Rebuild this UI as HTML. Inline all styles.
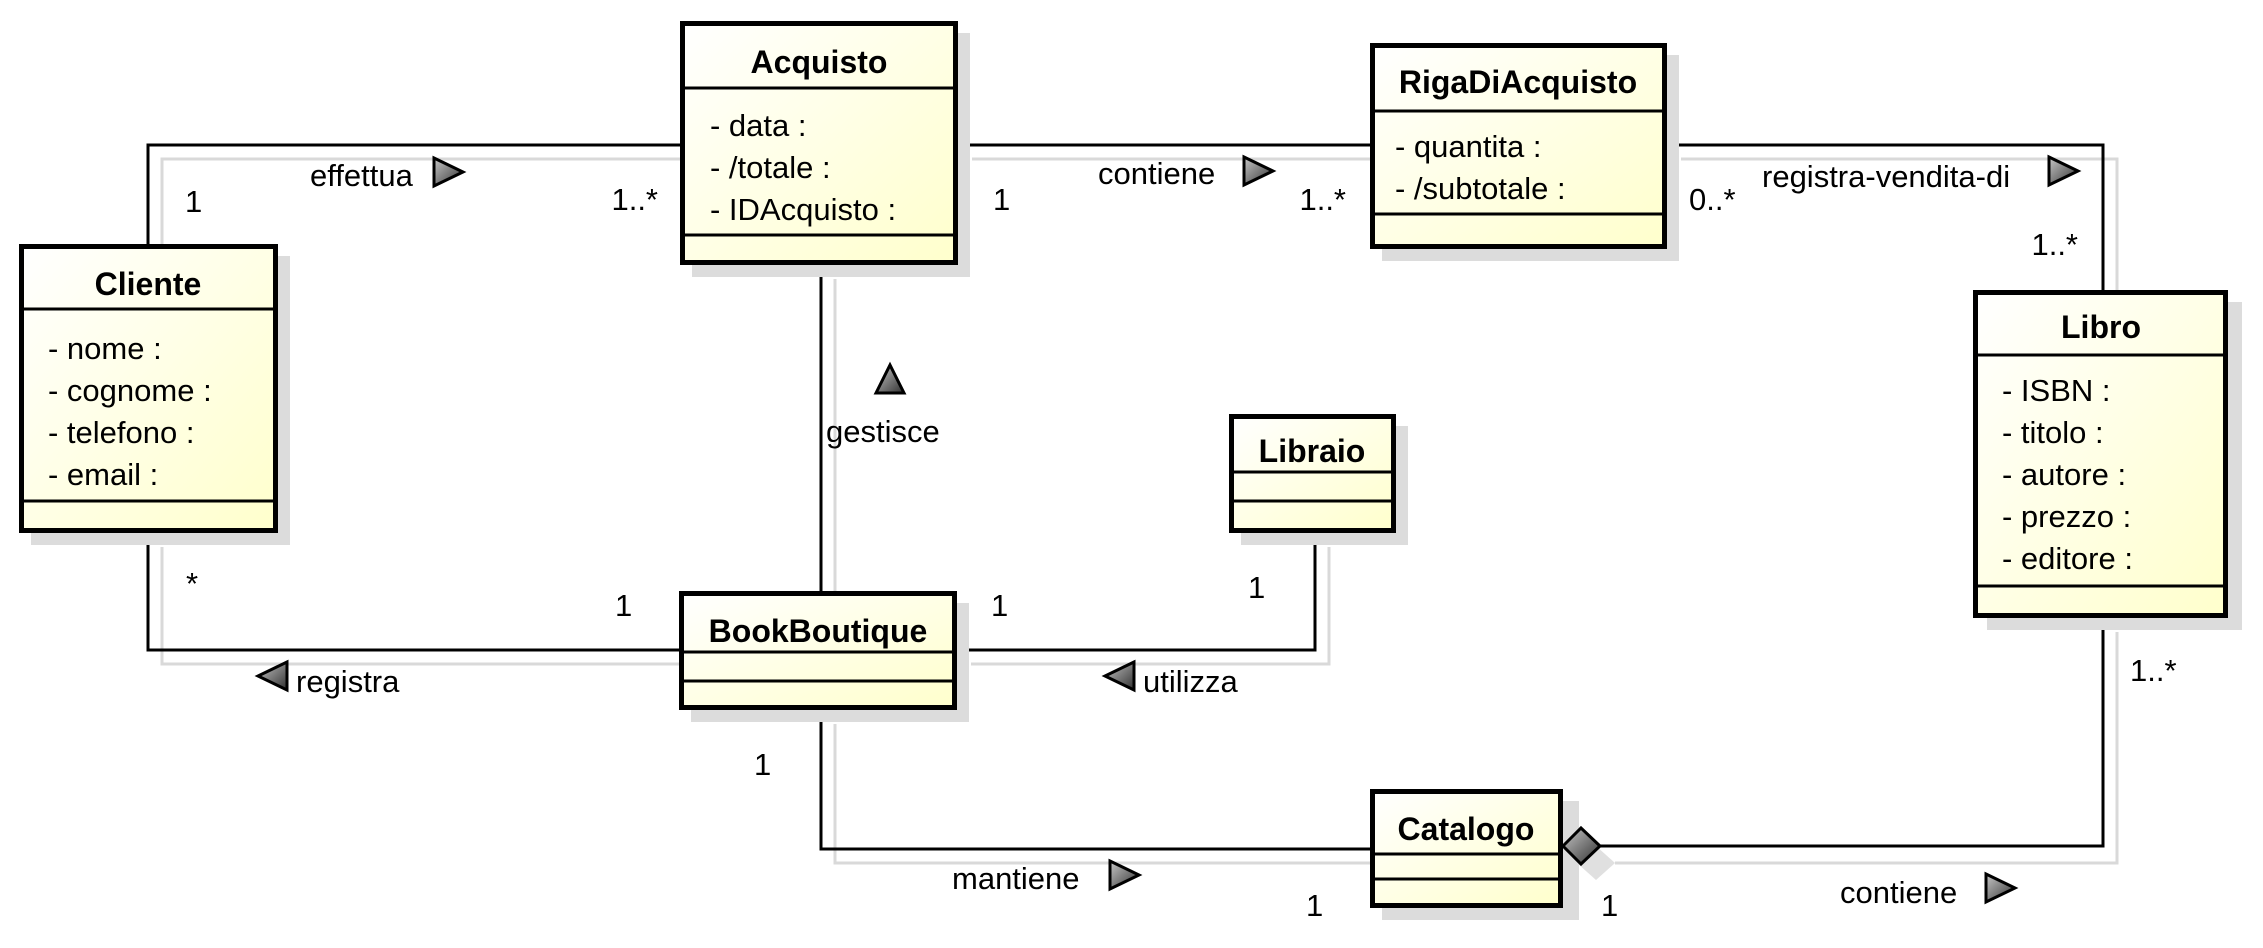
<!DOCTYPE html>
<html><head><meta charset="utf-8"><style>
html,body{margin:0;padding:0;background:#fff;}
svg{display:block;}
text{font-family:"Liberation Sans",Arial,sans-serif;font-size:31px;fill:#000;}
.b{font-weight:bold;font-size:32px;}
</style></head><body>
<svg width="2263" height="948" viewBox="0 0 2263 948" xmlns="http://www.w3.org/2000/svg">
<defs>
<linearGradient id="fill" x1="0" y1="0" x2="1" y2="1">
<stop offset="0" stop-color="#ffffff"/><stop offset="1" stop-color="#ffffcc"/>
</linearGradient>
<linearGradient id="tri" x1="0" y1="0" x2="1" y2="1">
<stop offset="0" stop-color="#c8c8c8"/><stop offset="1" stop-color="#303030"/>
</linearGradient>
</defs>

<!-- connector shadows -->
<g fill="none" stroke="#d9d9d9" stroke-width="3">
<polyline points="162,258 162,159 694,159"/>
<polyline points="972,159 1384,159"/>
<polyline points="1681,159 2117,159 2117,304"/>
<polyline points="835,279 835,605"/>
<polyline points="162,547 162,664 693,664"/>
<polyline points="971,664 1329,664 1329,547"/>
<polyline points="835,724 835,863 1384,863"/>
<polyline points="1615,863 2117,863 2117,632"/>
</g>

<!-- connectors -->
<g fill="none" stroke="#000" stroke-width="3">
<polyline points="148,244 148,145 680,145"/>
<polyline points="958,145 1370,145"/>
<polyline points="1667,145 2103,145 2103,290"/>
<polyline points="821,265 821,591"/>
<polyline points="148,533 148,650 679,650"/>
<polyline points="957,650 1315,650 1315,533"/>
<polyline points="821,710 821,849 1370,849"/>
<polyline points="1600,846 2103,846 2103,618"/>
</g>

<!-- box shadows -->
<g fill="#dcdcdc">
<rect x="31" y="256" width="259" height="289"/>
<rect x="692" y="33" width="278" height="244"/>
<rect x="1382" y="55" width="297" height="206"/>
<rect x="1987" y="302" width="255" height="328"/>
<rect x="1241" y="426" width="167" height="119"/>
<rect x="691" y="603" width="278" height="119"/>
<rect x="1382" y="801" width="197" height="119"/>
</g>

<!-- boxes -->
<g stroke="#000">
<rect x="21.5" y="246.5" width="254" height="284" fill="url(#fill)" stroke-width="5"/>
<line x1="21" y1="309" x2="276" y2="309" stroke-width="3"/>
<line x1="21" y1="501" x2="276" y2="501" stroke-width="3"/>

<rect x="682.5" y="23.5" width="273" height="239" fill="url(#fill)" stroke-width="5"/>
<line x1="682" y1="88" x2="956" y2="88" stroke-width="3"/>
<line x1="682" y1="235" x2="956" y2="235" stroke-width="3"/>

<rect x="1372.5" y="45.5" width="292" height="201" fill="url(#fill)" stroke-width="5"/>
<line x1="1372" y1="111" x2="1665" y2="111" stroke-width="3"/>
<line x1="1372" y1="214" x2="1665" y2="214" stroke-width="3"/>

<rect x="1975.5" y="292.5" width="250" height="323" fill="url(#fill)" stroke-width="5"/>
<line x1="1975" y1="355" x2="2226" y2="355" stroke-width="3"/>
<line x1="1975" y1="586" x2="2226" y2="586" stroke-width="3"/>

<rect x="1231.5" y="416.5" width="162" height="114" fill="url(#fill)" stroke-width="5"/>
<line x1="1231" y1="472" x2="1394" y2="472" stroke-width="3"/>
<line x1="1231" y1="501" x2="1394" y2="501" stroke-width="3"/>

<rect x="681.5" y="593.5" width="273" height="114" fill="url(#fill)" stroke-width="5"/>
<line x1="681" y1="652" x2="955" y2="652" stroke-width="3"/>
<line x1="681" y1="681" x2="955" y2="681" stroke-width="3"/>

<rect x="1372.5" y="791.5" width="188" height="114" fill="url(#fill)" stroke-width="5"/>
<line x1="1372" y1="854" x2="1561" y2="854" stroke-width="3"/>
<line x1="1372" y1="879" x2="1561" y2="879" stroke-width="3"/>
</g>

<!-- aggregation diamond -->
<polygon points="1577,863 1596,846 1615,863 1596,880" fill="#e0e0e0"/>
<polygon points="1563,846 1581,828 1600,846 1581,864" fill="url(#tri)" stroke="#000" stroke-width="3"/>

<!-- class names -->
<g text-anchor="middle">
<text class="b" x="148" y="295">Cliente</text>
<text class="b" x="819" y="73">Acquisto</text>
<text class="b" x="1518" y="93">RigaDiAcquisto</text>
<text class="b" x="2101" y="338">Libro</text>
<text class="b" x="1312" y="462">Libraio</text>
<text class="b" x="818" y="642">BookBoutique</text>
<text class="b" x="1466" y="840">Catalogo</text>
</g>

<!-- attributes -->
<text x="48" y="359">- nome :</text>
<text x="48" y="401">- cognome :</text>
<text x="48" y="443">- telefono :</text>
<text x="48" y="485">- email :</text>
<text x="710" y="136">- data :</text>
<text x="710" y="178">- /totale :</text>
<text x="710" y="220">- IDAcquisto :</text>
<text x="1395" y="157">- quantita :</text>
<text x="1395" y="199">- /subtotale :</text>
<text x="2002" y="401">- ISBN :</text>
<text x="2002" y="443">- titolo :</text>
<text x="2002" y="485">- autore :</text>
<text x="2002" y="527">- prezzo :</text>
<text x="2002" y="569">- editore :</text>

<!-- labels -->
<text x="185" y="212">1</text>
<text x="310" y="186">effettua</text>
<text x="658" y="210" text-anchor="end">1..*</text>
<text x="993" y="210">1</text>
<text x="1098" y="184">contiene</text>
<text x="1346" y="210" text-anchor="end">1..*</text>
<text x="1689" y="210">0..*</text>
<text x="1762" y="187">registra-vendita-di</text>
<text x="2078" y="255" text-anchor="end">1..*</text>
<text x="826" y="442">gestisce</text>
<text x="186" y="594">*</text>
<text x="615" y="616">1</text>
<text x="296" y="692">registra</text>
<text x="991" y="616">1</text>
<text x="1248" y="598">1</text>
<text x="1143" y="692">utilizza</text>
<text x="754" y="775">1</text>
<text x="952" y="889">mantiene</text>
<text x="1306" y="916">1</text>
<text x="1601" y="916">1</text>
<text x="1840" y="903">contiene</text>
<text x="2130" y="681">1..*</text>

<!-- direction triangles -->
<g fill="url(#tri)" stroke="#000" stroke-width="3" stroke-linejoin="miter">
<polygon points="434,158 463,172 434,186"/>
<polygon points="1244,157 1273,171 1244,185"/>
<polygon points="2049,157 2078,171 2049,185"/>
<polygon points="876,393 890,365 904,393"/>
<polygon points="287,662 258,676 287,690"/>
<polygon points="1134,662 1105,676 1134,690"/>
<polygon points="1110,861 1139,875 1110,889"/>
<polygon points="1986,874 2015,888 1986,902"/>
</g>
</svg>
</body></html>
